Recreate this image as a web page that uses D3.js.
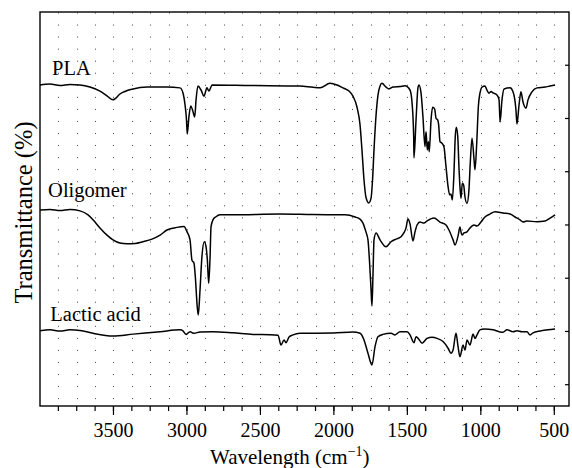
<!DOCTYPE html>
<html><head><meta charset="utf-8">
<script src="https://cdn.jsdelivr.net/npm/d3@7"></script>
<style>
body{margin:0;background:#fff}svg{display:block}
</style>
</head><body>
<svg id="c" width="572" height="468"></svg>
<script>
// ---- data (wavenumber cm-1, transmittance with vertical offsets) ----
const seriesNames = ["PLA", "Oligomer", "Lactic acid"];
const xTickLabels = [3500, 3000, 2500, 2000, 1500, 1000, 500];
const xMinorTicks = [3875,3750,3625,3500,3375,3250,3125,3000,2875,2750,2625,2500,2375,2250,2125,2000,1875,1750,1625,1500,1375,1250,1125,1000,875,750,625,500];
const yTicks = [8, 28, 48, 68, 88, 108, 128];

const pla = [[4000,120.6],[3932,121.0],[3864,120.4],[3796,120.8],[3728,120.6],[3660,119.8],[3592,118.3],[3551,116.8],[3503,115.0],[3456,117.2],[3367,119.1],[3272,119.8],[3136,119.8],[3047,119.5],[3027,117.6],[3013,113.1],[3003,107.4],[2998,102.2],[2986,108.9],[2974,112.7],[2962,111.2],[2947,108.6],[2938,115.0],[2925,120.2],[2904,118.7],[2884,116.4],[2864,119.5],[2850,118.3],[2829,120.6],[2571,120.4],[2231,120.2],[2142,119.7],[2094,119.5],[2026,121.2],[1979,120.6],[1938,119.5],[1897,118.3],[1870,116.4],[1843,112.3],[1822,105.6],[1809,96.2],[1795,84.9],[1782,78.5],[1763,76.3],[1747,78.1],[1737,84.9],[1727,96.2],[1713,109.3],[1700,116.8],[1686,120.2],[1673,121.2],[1645,119.8],[1625,119.1],[1598,119.8],[1550,120.0],[1516,120.3],[1482,118.7],[1468,113.8],[1457,101.2],[1455,93.2],[1441,107.4],[1428,119.5],[1421,120.6],[1407,117.6],[1394,108.7],[1380,97.4],[1373,103.0],[1364,96.2],[1357,99.3],[1351,95.5],[1339,107.4],[1328,112.2],[1314,111.5],[1305,108.1],[1293,107.4],[1287,105.6],[1278,99.3],[1264,98.7],[1251,97.4],[1237,89.9],[1223,82.4],[1212,79.3],[1203,79.6],[1194,77.4],[1183,87.4],[1174,101.2],[1167,104.7],[1157,101.2],[1149,89.9],[1142,82.4],[1135,78.0],[1126,83.7],[1117,83.0],[1108,78.6],[1094,76.1],[1081,81.1],[1072,91.2],[1060,100.6],[1046,92.4],[1040,88.7],[1028,98.7],[1017,112.4],[1006,117.5],[990,119.9],[972,120.2],[956,118.4],[944,117.5],[931,118.1],[917,117.6],[890,116.8],[876,115.0],[869,106.7],[856,115.0],[842,119.1],[801,119.5],[781,118.0],[761,111.2],[754,105.9],[740,113.1],[727,118.0],[713,114.2],[693,111.9],[679,115.0],[652,118.0],[618,119.5],[563,119.8],[529,120.2],[495,120.6]];

const oligomer = [[4000,73.6],[3932,73.8],[3864,73.4],[3796,73.8],[3728,73.3],[3673,71.8],[3626,69.1],[3592,66.9],[3544,64.2],[3503,62.4],[3456,61.2],[3408,60.9],[3353,61.0],[3299,61.7],[3238,62.7],[3183,64.2],[3136,66.1],[3068,67.1],[3020,67.4],[3000,65.5],[2979,62.4],[2966,54.8],[2952,53.6],[2943,48.6],[2930,37.3],[2923,34.2],[2911,43.6],[2898,56.1],[2882,61.7],[2870,59.8],[2861,54.8],[2852,46.1],[2843,55.5],[2836,67.4],[2823,69.9],[2802,71.1],[2775,71.8],[2687,71.8],[2367,72.1],[2142,71.9],[1924,71.8],[1856,71.0],[1822,70.2],[1802,68.7],[1782,65.4],[1768,62.4],[1758,54.8],[1747,43.6],[1741,37.6],[1734,49.2],[1727,62.4],[1713,65.0],[1686,62.4],[1645,59.8],[1611,61.7],[1577,62.7],[1543,63.6],[1523,65.1],[1509,66.9],[1496,70.2],[1482,68.4],[1462,62.0],[1448,65.4],[1434,68.0],[1414,69.1],[1387,68.7],[1366,69.5],[1319,70.6],[1278,69.1],[1237,68.0],[1217,66.1],[1189,62.4],[1176,60.5],[1155,63.9],[1142,67.2],[1135,65.4],[1128,64.2],[1115,65.0],[1094,65.4],[1074,66.9],[1046,68.0],[1026,67.6],[999,69.1],[972,71.0],[938,72.1],[904,73.0],[849,72.5],[801,72.1],[767,71.0],[733,69.9],[713,69.1],[686,69.5],[618,69.2],[563,69.5],[529,70.6],[495,71.8]];

const lactic = [[4000,28.3],[3932,28.6],[3864,28.2],[3796,28.6],[3728,28.4],[3639,27.3],[3503,26.3],[3367,27.0],[3183,27.9],[3047,28.6],[3027,28.2],[3006,26.9],[2979,27.9],[2952,27.3],[2911,27.8],[2823,27.9],[2687,27.5],[2550,26.9],[2435,26.8],[2380,26.6],[2360,22.9],[2339,24.8],[2326,23.8],[2305,25.9],[2278,26.7],[2231,27.3],[2006,27.4],[1870,27.8],[1822,27.3],[1795,24.8],[1768,19.8],[1741,15.4],[1720,22.3],[1700,26.0],[1666,26.9],[1611,27.3],[1584,26.7],[1550,27.9],[1502,27.9],[1482,26.7],[1455,23.8],[1441,26.0],[1428,25.5],[1400,23.6],[1366,25.4],[1332,25.8],[1298,25.4],[1257,24.2],[1223,21.7],[1203,19.8],[1189,21.0],[1169,27.3],[1155,22.3],[1142,18.5],[1121,22.9],[1108,21.0],[1094,24.8],[1074,22.9],[1053,27.0],[1040,25.4],[1026,26.7],[1006,28.6],[978,28.9],[917,28.6],[876,27.9],[849,27.7],[822,28.6],[781,27.9],[754,28.3],[720,27.9],[686,27.9],[665,26.7],[645,27.5],[597,28.2],[543,28.6],[495,28.9]];

const seriesData = [pla, oligomer, lactic];
const labelAnchors = [[3918, 124.3], [3945, 78.5], [3930, 32.0]]; // label position in data units

// ---- drawing ----
const svg = d3.select("#c");
const L = 40, R = 569, T = 12, B = 406;
const x = d3.scaleLinear().domain([4000, 400]).range([L, R]);
const y = d3.scaleLinear().domain([0, 148]).range([B, T]);
const FF = '"Liberation Serif"';

// dotted vertical grid
svg.append("g").selectAll("line").data(xMinorTicks).join("line")
  .attr("x1", d => Math.round(x(d)) + 0.5).attr("x2", d => Math.round(x(d)) + 0.5)
  .attr("y1", T + 0.5).attr("y2", B - 2)
  .attr("stroke", "#444").attr("stroke-width", 1)
  .attr("stroke-dasharray", "1,11.05");

// bottom ticks (minor + major) from the x scale
const tk = svg.append("g");
tk.selectAll("line.mn").data(xMinorTicks).join("line").attr("class", "mn")
  .attr("x1", d => x(d)).attr("x2", d => x(d)).attr("y1", B).attr("y2", B + 5)
  .attr("stroke", "#000").attr("stroke-width", 1.2);
tk.selectAll("line.mj").data(xTickLabels).join("line").attr("class", "mj")
  .attr("x1", d => x(d)).attr("x2", d => x(d)).attr("y1", B).attr("y2", B + 9)
  .attr("stroke", "#000").attr("stroke-width", 1.2);
// right ticks (inward) from the y scale
tk.selectAll("line.ry").data(yTicks).join("line").attr("class", "ry")
  .attr("x1", R - 4).attr("x2", R).attr("y1", d => y(d)).attr("y2", d => y(d))
  .attr("stroke", "#000").attr("stroke-width", 1.2);

// frame
svg.append("rect").attr("x", L).attr("y", T).attr("width", R - L).attr("height", B - T)
  .attr("fill", "none").attr("stroke", "#000").attr("stroke-width", 1.4);

// curves
const line = d3.line().x(d => x(d[0])).y(d => y(d[1])).curve(d3.curveMonotoneX);
svg.append("g").selectAll("path").data(seriesData).join("path")
  .attr("d", line).attr("fill", "none").attr("stroke", "#000")
  .attr("stroke-width", 1.5).attr("stroke-linejoin", "round");

// texts
svg.selectAll("text.xt").data(xTickLabels).join("text").attr("class", "xt")
  .attr("x", d => x(d)).attr("y", B + 31).attr("text-anchor", "middle")
  .style("font-family", FF).attr("font-size", 20)
  .text(d => d3.format("d")(d));

svg.selectAll("text.sl").data(seriesNames).join("text").attr("class", "sl")
  .attr("x", (d, i) => x(labelAnchors[i][0])).attr("y", (d, i) => y(labelAnchors[i][1]))
  .style("font-family", FF).attr("font-size", 20.5).text(d => d);

const xt = svg.append("text").attr("x", 210).attr("y", 464)
  .style("font-family", FF).attr("font-size", 21);
xt.append("tspan").text("Wavelength (cm");
xt.append("tspan").text("−1").attr("font-size", 14).attr("dy", -8);
xt.append("tspan").text(")").attr("dy", 8);

svg.append("text").attr("transform", "translate(32,212.5) rotate(-90)")
  .attr("text-anchor", "middle").style("font-family", FF).attr("font-size", 24.5)
  .text("Transmittance (%)");

// re-apply the font once fonts are ready (forces re-layout)
if (document.fonts && document.fonts.load) {
  document.fonts.load('20px "Liberation Serif"').then(() => {
    svg.selectAll("text").style("font-family", "Liberation Serif");
  });
}
</script>
</body></html>
